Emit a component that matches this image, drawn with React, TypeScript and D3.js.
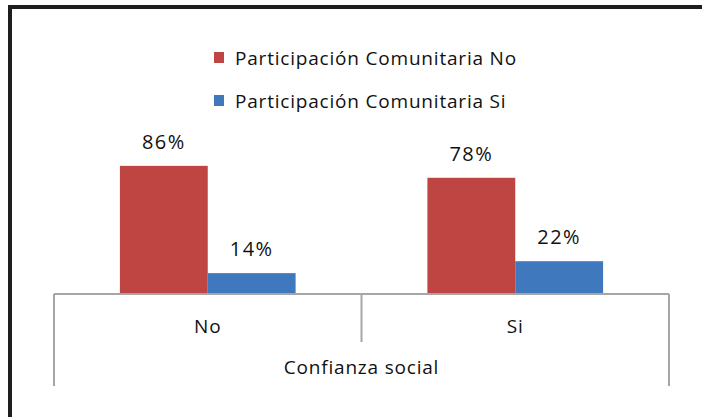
import React from "react";
import * as d3 from "d3";

const categories = ["No", "Si"];
const seriesNames = ["Participación Comunitaria No", "Participación Comunitaria Si"];
const seriesNo = [0.86, 0.78];
const seriesSi = [0.14, 0.22];
const axisTitle = "Confianza social";
const colors = ["#BF4542", "#4078BD"];

const W = 702;
const H = 417;
const FONT = "'Open Sans', sans-serif";
const FS = 19;
const LS = 0.8;

export default function App() {
  const series = [seriesNo, seriesSi];
  const x0 = d3.scaleBand<string>().domain(categories).range([54, 669]).padding(0);
  const x1 = d3
    .scaleBand<number>()
    .domain([0, 1])
    .range([0, x0.bandwidth()])
    .paddingInner(0)
    .paddingOuter(0.75);
  const y = d3.scaleLinear().domain([0, 1]).range([294, 145]);
  const fmt = d3.format(".0%");
  const axisColor = "#a6a6a6";

  return (
    <svg
      width={W}
      height={H}
      style={{ position: "absolute", left: 0, top: 0, background: "#fff" }}
      fontFamily={FONT}
      letterSpacing={LS}
    >
      {/* outer frame */}
      <rect x={10} y={7} width={W + 20} height={H + 20} fill="#fff" stroke="#1e1e1e" strokeWidth={4} />

      {/* legend */}
      {seriesNames.map((name, i) => (
        <g key={name} transform={`translate(214, ${58 + i * 43})`}>
          <rect x={0} y={-6} width={10} height={11} fill={colors[i]} />
          <text x={21} y={0} dy="0.36em" fontSize={FS} fill="#111">
            {name}
          </text>
        </g>
      ))}

      {/* bars */}
      {categories.map((c, ci) => (
        <g key={c} transform={`translate(${x0(c)},0)`}>
          {series.map((s, si) => (
            <g key={si}>
              <rect
                x={x1(si)}
                y={y(s[ci])}
                width={x1.bandwidth()}
                height={y(0) - y(s[ci])}
                fill={colors[si]}
              />
              <text
                x={(x1(si) as number) + x1.bandwidth() / 2}
                y={y(s[ci]) - 24}
                dy="0.36em"
                textAnchor="middle"
                fontSize={20}
                letterSpacing={1.4}
                fill="#111"
              >
                {fmt(s[ci])}
              </text>
            </g>
          ))}
        </g>
      ))}

      {/* axis */}
      <line x1={54} x2={669} y1={294} y2={294} stroke={axisColor} strokeWidth={2} />
      <line x1={54} x2={54} y1={294} y2={386} stroke={axisColor} strokeWidth={2} />
      <line x1={669} x2={669} y1={294} y2={386} stroke={axisColor} strokeWidth={2} />
      {categories.slice(1).map((c) => (
        <line
          key={c}
          x1={x0(c)}
          x2={x0(c)}
          y1={294}
          y2={342}
          stroke={axisColor}
          strokeWidth={2}
        />
      ))}
      {categories.map((c) => (
        <text
          key={c}
          x={(x0(c) as number) + x0.bandwidth() / 2}
          y={326}
          dy="0.36em"
          textAnchor="middle"
          fontSize={FS}
          fill="#111"
        >
          {c}
        </text>
      ))}
      <text x={(54 + 669) / 2} y={367} dy="0.36em" textAnchor="middle" fontSize={FS} fill="#111">
        {axisTitle}
      </text>
    </svg>
  );
}
